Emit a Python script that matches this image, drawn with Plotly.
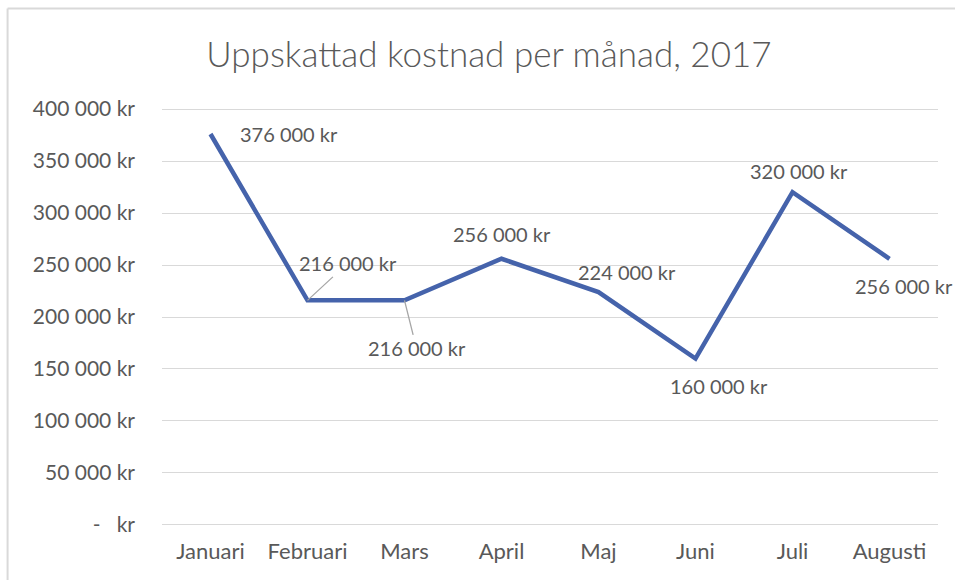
import plotly.graph_objects as go

months = ["Januari", "Februari", "Mars", "April", "Maj", "Juni", "Juli", "Augusti"]
cost = [376000, 216000, 216000, 256000, 224000, 160000, 320000, 256000]
y_ticks = [0, 50000, 100000, 150000, 200000, 250000, 300000, 350000, 400000]
y_ticktext = ["-\u00a0\u00a0\u00a0kr", "50 000 kr", "100 000 kr", "150 000 kr", "200 000 kr",
              "250 000 kr", "300 000 kr", "350 000 kr", "400 000 kr"]
title_text = "Uppskattad kostnad per månad, 2017"

# label placement offsets (pixels, +y = up) relative to each point
label_dx = [78, 40, 12, 0, 28, 23, 6, 14]
label_dy = [0, 37, -48, 25, 20, -27, 21, -27]
leader = [False, True, True, False, False, False, False, False]

FONT = "Lato"
TXT = "#595959"

def fmt(v):
    return f"{v:,}".replace(",", " ") + " kr"

fig = go.Figure()
fig.add_trace(go.Scatter(
    x=months, y=cost, mode="lines",
    line=dict(color="#4563AB", width=4.5),
    hoverinfo="skip", showlegend=False,
))

annotations = []
for m, v, dx, dy, ld in zip(months, cost, label_dx, label_dy, leader):
    if ld:
        annotations.append(dict(
            x=m, y=v, xref="x", yref="y", text=fmt(v),
            showarrow=True, arrowhead=0, arrowwidth=1.3, arrowcolor="#a6a6a6",
            ax=dx, ay=-dy, standoff=0,
            font=dict(family=FONT, size=20, color=TXT),
        ))
    else:
        annotations.append(dict(
            x=m, y=v, xref="x", yref="y", text=fmt(v),
            showarrow=False, xshift=dx, yshift=dy,
            font=dict(family=FONT, size=20, color=TXT),
        ))

fig.update_layout(
    width=955, height=580,
    margin=dict(l=162, r=17, t=108, b=54),
    paper_bgcolor="white", plot_bgcolor="white",
    title=dict(text=title_text, xref="container", yref="container",
               x=0.512, y=0.905, xanchor="center", yanchor="middle",
               font=dict(family=FONT, size=35, color=TXT, weight=300)),
    annotations=annotations,
    shapes=[
        dict(type="line", xref="paper", yref="paper",
             x0=-0.199, x1=-0.199, y0=-0.4, y1=1.238,
             line=dict(color="#d9d9d9", width=2), layer="below"),
        dict(type="line", xref="paper", yref="paper",
             x0=-0.199, x1=1.3, y0=1.238, y1=1.238,
             line=dict(color="#d9d9d9", width=2), layer="below"),
    ],
    xaxis=dict(showgrid=False, showline=False, zeroline=False, ticks="",
               range=[-0.5, 7.5],
               tickfont=dict(family=FONT, size=22, color=TXT),
               ticklabelstandoff=10),
    yaxis=dict(range=[-1000, 401000], tickvals=y_ticks, ticktext=y_ticktext,
               showgrid=True, gridcolor="#d9d9d9", gridwidth=1.3,
               zeroline=False, showline=False, ticks="",
               tickfont=dict(family=FONT, size=21, color=TXT),
               ticklabelstandoff=26),
)

fig.write_html("out.html", config={"displayModeBar": False},
               post_script="document.body.style.margin='0';document.body.style.overflow='hidden';")
